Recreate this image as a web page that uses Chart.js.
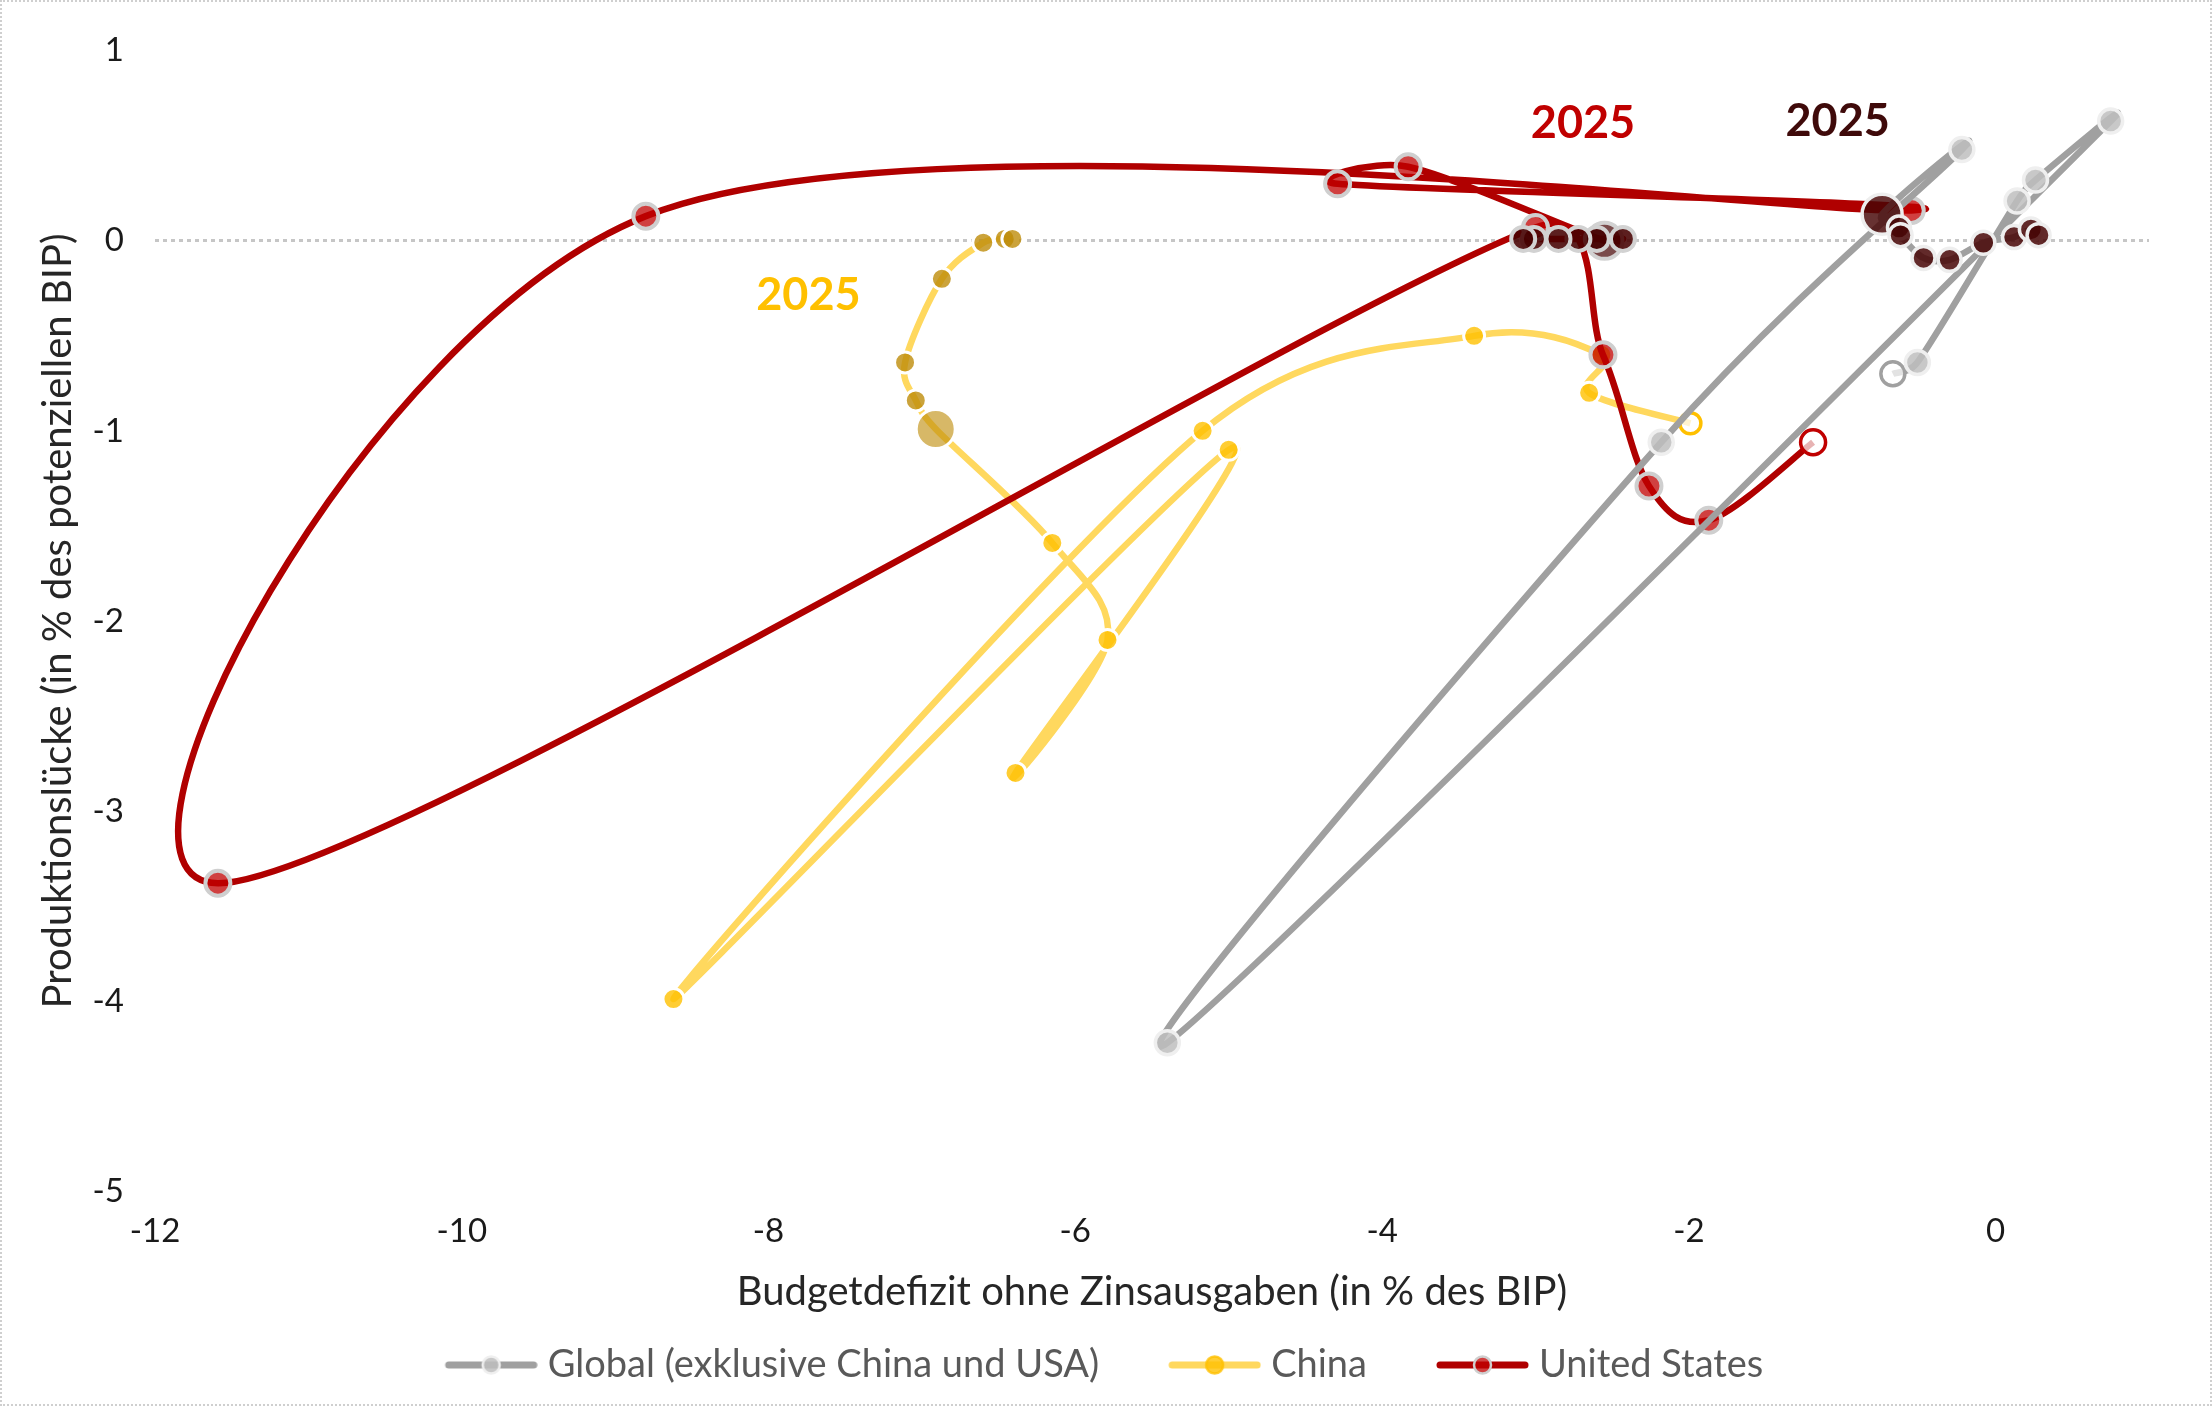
<!DOCTYPE html>
<html>
<head>
<meta charset="utf-8">
<script src="https://cdn.jsdelivr.net/npm/chart.js@4.4.1/dist/chart.umd.min.js"></script>
<style>
html,body{margin:0;padding:0;background:#fff;}
#wrap{position:relative;width:2212px;height:1406px;overflow:hidden;}
#wrap canvas{position:absolute;left:0;top:0;}
#frame{position:absolute;left:0;top:0;right:0;bottom:0;border:2px dotted #cfcfcf;pointer-events:none;}
</style>
</head>
<body>
<div id="wrap"><canvas id="chart" width="2212" height="1406"></canvas><div id="frame"></div></div>
<script>
// axes
const xTicks=[-12,-10,-8,-6,-4,-2,0];
const yTicks=[1,0,-1,-2,-3,-4,-5];
const seriesNames=['Global (exklusive China und USA)','China','United States'];

// path of each series, point by point (first point = hollow marker)
const globalX=[-0.67,-0.51,0.14,0.26,0.75,-5.40,-2.18,-0.22,-0.74,-0.63,-0.62,-0.47,-0.30,-0.08,0.12,0.23,0.28];
const globalY=[-0.70,-0.64,0.21,0.32,0.63,-4.22,-1.06,0.48,0.14,0.07,0.03,-0.09,-0.10,-0.01,0.02,0.06,0.03];
const chinaX=[-1.99,-2.65,-2.57,-3.40,-5.17,-8.62,-5.00,-6.39,-5.79,-6.15,-6.91,-7.04,-7.11,-6.87,-6.60,-6.46,-6.41];
const chinaY=[-0.96,-0.80,-0.60,-0.50,-1.00,-3.99,-1.10,-2.80,-2.10,-1.59,-0.99,-0.84,-0.64,-0.20,-0.01,0.01,0.01];
const usX=[-1.19,-1.87,-2.26,-2.56,-3.00,-11.59,-8.80,-0.55,-4.29,-3.83,-2.55,-2.43,-2.60,-2.72,-2.85,-3.01,-3.08];
const usY=[-1.06,-1.47,-1.29,-0.60,0.07,-3.38,0.13,0.16,0.30,0.39,0.00,0.01,0.01,0.01,0.01,0.01,0.01];
// index of the 2025 point (big marker); later points are projections
const year2025Index=[8,10,10];

// "2025" annotations
const yearLabels=['2025','2025','2025'];
const yearLabelX=[-1.03,-7.74,-2.69];
const yearLabelY=[0.63,-0.29,0.615];

const FONT='Lato, "Noto Sans", sans-serif';
Chart.defaults.font.family=FONT;

const styles=[
  {line:'#a0a0a0',hist:'rgba(190,190,190,0.85)',histBorder:'#efefef',hollowBorder:'#a0a0a0',
   big:'rgba(70,5,5,0.82)',proj:'rgba(70,5,5,0.85)',projBorder:'#eeeeee',
   r:12,rProj:11.5,rBig:20,bw:3.5,label:'#3f0a0a'},
  {line:'#ffd85e',hist:'rgba(255,192,0,0.8)',histBorder:'#ffffff',hollowBorder:'#ffc000',
   big:'rgba(190,140,10,0.62)',proj:'rgba(190,140,10,0.8)',projBorder:'#ffffff',
   r:10.5,rProj:10.5,rBig:19.5,bw:3,label:'#ffc000'},
  {line:'#b00000',hist:'rgba(192,0,0,0.75)',histBorder:'#cfcfcf',hollowBorder:'#c00000',
   big:'rgba(70,5,5,0.72)',proj:'rgba(70,0,0,0.88)',projBorder:'#d2d2d2',
   r:12.5,rProj:12,rBig:18,bw:4,label:'#c00000'}
];
const yearLabelColors=[styles[0].label,styles[1].label,styles[2].label];

function pts(xs,ys){return xs.map((v,i)=>({x:v,y:ys[i]}));}

function makeDataset(i,xs,ys,order){
  const s=styles[i], big=year2025Index[i];
  return {
    label:seriesNames[i],
    data:pts(xs,ys),
    showLine:true,
    tension:0.3,
    borderColor:s.line,
    borderWidth:6.5,
    order:order,
    pointRadius:c=>c.dataIndex===big?s.rBig:(c.dataIndex>big?s.rProj:s.r),
    pointBackgroundColor:c=>c.dataIndex===0?'rgba(255,255,255,0.7)':(c.dataIndex===big?s.big:(c.dataIndex>big?s.proj:s.hist)),
    pointBorderColor:c=>c.dataIndex===0?s.hollowBorder:(c.dataIndex>=big?s.projBorder:s.histBorder),
    pointBorderWidth:c=>c.dataIndex===0?3.5:s.bw,
    pointHoverRadius:c=>c.dataIndex===big?s.rBig:s.r
  };
}

// Excel-style smoothing: control arms = (next - prev)/6, capped at half the segment
const smoothPlugin={
  id:'excelSmooth',
  beforeDatasetDraw(chart,args){
    const line=args.meta.dataset;
    if(!line) return;
    line.updateControlPoints(chart.chartArea,'x');
    const p=line.points;
    for(let i=0;i<p.length;i++){
      const a=p[i-1]||p[i], b=p[i], c=p[i+1]||p[i];
      let tx=(c.x-a.x)/6, ty=(c.y-a.y)/6;
      const len=Math.hypot(tx,ty)||1;
      const d0=Math.hypot(b.x-a.x,b.y-a.y), d1=Math.hypot(c.x-b.x,c.y-b.y);
      const k0=Math.min(1,0.5*d0/len), k1=Math.min(1,0.5*d1/len);
      b.cp1x=b.x-tx*k0; b.cp1y=b.y-ty*k0;
      b.cp2x=b.x+tx*k1; b.cp2y=b.y+ty*k1;
    }
  }
};

// legend sample: line with marker, drawn in the right part of the box
function legendIcon(s){
  const c=document.createElement('canvas');
  c.width=141;c.height=32;
  const g=c.getContext('2d');
  g.lineCap='round';
  g.strokeStyle=s.line;g.lineWidth=7;
  g.beginPath();g.moveTo(52,16);g.lineTo(137,16);g.stroke();
  g.beginPath();g.arc(94.5,16,8.5,0,Math.PI*2);
  g.fillStyle=s.hist;g.fill();
  g.lineWidth=2.5;g.strokeStyle=s.histBorder==='#ffffff'?s.hist:s.histBorder;g.stroke();
  return c;
}

const yearLabelPlugin={
  id:'yearLabels',
  afterDatasetsDraw(chart){
    const {ctx,scales:{x,y}}=chart;
    ctx.save();
    ctx.font='bold 45px '+FONT;
    ctx.textAlign='center';ctx.textBaseline='middle';
    yearLabels.forEach((t,i)=>{
      ctx.fillStyle=yearLabelColors[i];
      ctx.fillText(t,x.getPixelForValue(yearLabelX[i]),y.getPixelForValue(yearLabelY[i]));
    });
    ctx.restore();
  }
};

new Chart(document.getElementById('chart'),{
  type:'scatter',
  data:{datasets:[
    makeDataset(0,globalX,globalY,0),
    makeDataset(1,chinaX,chinaY,2),
    makeDataset(2,usX,usY,1)
  ]},
  options:{
    responsive:false,
    animation:false,
    layout:{padding:{left:20,right:63,top:43.5,bottom:12}},
    plugins:{
      tooltip:{enabled:false},
      legend:{
        position:'bottom',
        labels:{
          usePointStyle:true,
          pointStyleWidth:123,
          padding:30,
          color:'#595959',
          font:{size:38},
          generateLabels:chart=>[0,1,2].map(i=>({
            text:seriesNames[i],
            pointStyle:legendIcon(styles[i]),
            fillStyle:styles[i].line,
            strokeStyle:styles[i].line,
            lineWidth:0,
            hidden:false,
            datasetIndex:i,
            fontColor:'#595959'
          }))
        }
      }
    },
    scales:{
      x:{
        type:'linear',min:-12,max:1,
        afterBuildTicks:a=>{a.ticks=xTicks.map(v=>({value:v}));},
        afterFit:a=>{a.height=125;},
        grid:{display:false,drawTicks:false},
        border:{display:false},
        ticks:{color:'#1a1a1a',font:{size:33},padding:21,maxRotation:0,callback:v=>String(v)},
        title:{display:true,text:'Budgetdefizit ohne Zinsausgaben (in % des BIP)',color:'#262626',
               font:{size:40},padding:{top:0,bottom:0}}
      },
      y:{
        type:'linear',min:-5,max:1,
        afterBuildTicks:a=>{a.ticks=yTicks.map(v=>({value:v}));},
        afterFit:a=>{a.width=135;},
        grid:{drawTicks:false,lineWidth:3,color:c=>c.tick&&c.tick.value===0?'#c6c6c6':'rgba(0,0,0,0)'},
        border:{display:false,dash:[4,4]},
        ticks:{color:'#1a1a1a',font:{size:33},padding:31,callback:v=>String(v)},
        title:{display:true,text:'Produktionslücke (in % des potenziellen BIP)',color:'#262626',
               font:{size:40},padding:{top:14,bottom:0}}
      }
    }
  },
  plugins:[smoothPlugin,yearLabelPlugin]
});
</script>
</body>
</html>
